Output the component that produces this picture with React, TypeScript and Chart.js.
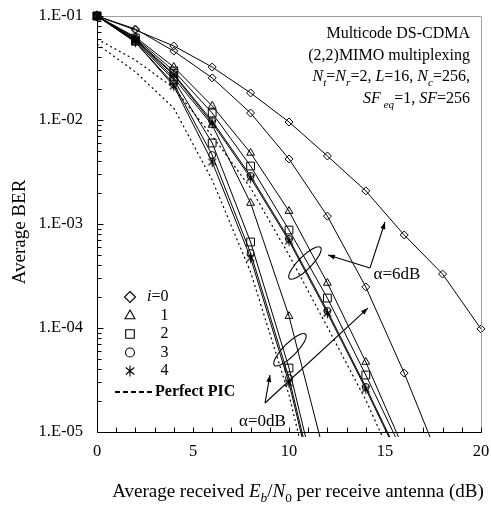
import React, { useEffect, useRef } from "react";
import { Chart, registerables } from "chart.js";

Chart.register(...registerables);

// ---------- data ----------
const SNR_DB = [0, 2, 4, 6, 8, 10, 12, 14, 16, 18, 20];
const X_TICKS = [0, 5, 10, 15, 20];
const Y_TICKS = [1e-5, 1e-4, 1e-3, 1e-2, 1e-1];

// alpha = 6 dB
const A6_I0 = [0.1, 0.0733, 0.0515, 0.0323, 0.0182, 0.00957, 0.00451, 0.00208, 0.000784, 0.00033, 0.000098];
const A6_I1 = [0.1, 0.0628, 0.0323, 0.01365, 0.00482, 0.00133, 0.000271, 4.71e-5, 6.7e-6];
const A6_I2 = [0.1, 0.0614, 0.0296, 0.01167, 0.00361, 0.000875, 0.000194, 3.53e-5, 6.0e-6];
const A6_I3 = [0.1, 0.0601, 0.0277, 0.00977, 0.0029, 0.000718, 0.000146, 2.71e-5, 4.6e-6];
const A6_I4 = [0.1, 0.0588, 0.0271, 0.00935, 0.00277, 0.000687, 0.000139, 2.59e-5, 4.4e-6];
const A6_PIC = [0.0601, 0.0377, 0.0203, 0.00702, 0.00222, 0.000503, 0.000102, 2.03e-5, 3.1e-6];

// alpha = 0 dB
const A0_I0 = [0.1, 0.075, 0.046, 0.0254, 0.01167, 0.00422, 0.00119, 0.000248, 3.69e-5, 4.5e-6];
const A0_I1 = [0.1, 0.0588, 0.0254, 0.00895, 0.00159, 0.00013, 4.7e-6];
const A0_I2 = [0.1, 0.0575, 0.0243, 0.00601, 0.000671, 4.12e-5, 1.2e-6];
const A0_I3 = [0.1, 0.0562, 0.0222, 0.0046, 0.000526, 3.3e-5, 9.6e-7];
const A0_I4 = [0.1, 0.0562, 0.0212, 0.00395, 0.000471, 2.96e-5, 8.6e-7];
const A0_PIC = [0.0538, 0.029, 0.013, 0.00265, 0.000345, 2.27e-5, 6.6e-7];

// legend labels
const LEGEND_FIRST = "i";
const LEGEND_NUMS = ["=0", "1", "2", "3", "4"];
const LEGEND_PIC = "Perfect PIC";

// annotations (data coordinates)
const A6_LABEL = "α=6dB";
const A6_LABEL_POS = [14.4, 3.3e-4];
const A6_VERTEX = [14.22, 3.78e-4];
const A6_TIPS = [[12.03, 5.04e-4], [15.0, 1.045e-3]];
const A6_ELLIPSE = [10.83, 4.22e-4];

const A0_LABEL = "α=0dB";
const A0_LABEL_POS = [7.4, 1.27e-5];
const A0_VERTEX = [8.75, 1.9e-5];
const A0_TIPS = [[9.01, 3.53e-5], [14.11, 1.556e-4]];
const A0_ELLIPSE = [10.05, 6.17e-5];

type Seg = [string, string];
const INFO_LINES: Seg[][] = [
  [["Multicode DS-CDMA", ""]],
  [["(2,2)MIMO multiplexing", ""]],
  [["N", "i"], ["t", "is"], ["=", ""], ["N", "i"], ["r", "is"], ["=2, ", ""], ["L", "i"], ["=16, ", ""], ["N", "i"], ["c", "is"], ["=256,", ""]],
  [["SF", "i"], [" eq", "is"], ["=1, ", ""], ["SF", "i"], ["=256", ""]],
];
const X_TITLE: Seg[] = [["Average received ", ""], ["E", "i"], ["b", "is"], ["/", ""], ["N", "i"], ["0", "s"], [" per receive antenna (dB)", ""]];
const Y_TITLE = "Average BER";

const SERIF = '"Liberation Serif", "Times New Roman", serif';

function fontFor(flags: string, size: number) {
  const sub = flags.includes("s");
  const it = flags.includes("i");
  const sz = sub ? size * 0.7 : size;
  return `${it ? "italic " : ""}${sz}px ${SERIF}`;
}

function richWidth(ctx: CanvasRenderingContext2D, segs: Seg[], size: number) {
  let w = 0;
  for (const [t, f] of segs) {
    ctx.font = fontFor(f, size);
    w += ctx.measureText(t).width;
  }
  return w;
}

function drawRich(ctx: CanvasRenderingContext2D, segs: Seg[], x: number, baseline: number, size: number, align: "left" | "right" | "center") {
  const w = richWidth(ctx, segs, size);
  let cx = align === "left" ? x : align === "right" ? x - w : x - w / 2;
  ctx.textAlign = "left";
  ctx.textBaseline = "alphabetic";
  for (const [t, f] of segs) {
    ctx.font = fontFor(f, size);
    const dy = f.includes("s") ? size * 0.28 : 0;
    ctx.fillText(t, cx, baseline + dy);
    cx += ctx.measureText(t).width;
  }
}

function makeAsterisk(arm: number, lw: number) {
  const s = Math.ceil(arm * 2 + 3);
  const c = document.createElement("canvas");
  c.width = s;
  c.height = s;
  const g = c.getContext("2d")!;
  g.strokeStyle = "#000";
  g.lineWidth = lw;
  const cx = s / 2, cy = s / 2;
  for (const a of [90, 40, 140]) {
    const r = (a * Math.PI) / 180;
    g.beginPath();
    g.moveTo(cx - Math.cos(r) * arm, cy - Math.sin(r) * arm);
    g.lineTo(cx + Math.cos(r) * arm, cy + Math.sin(r) * arm);
    g.stroke();
  }
  return c;
}

function drawMarker(ctx: CanvasRenderingContext2D, type: string, x: number, y: number, r: number) {
  ctx.beginPath();
  if (type === "diamond") {
    ctx.moveTo(x, y - r); ctx.lineTo(x + r, y); ctx.lineTo(x, y + r); ctx.lineTo(x - r, y); ctx.closePath();
  } else if (type === "triangle") {
    ctx.moveTo(x, y - r); ctx.lineTo(x + r * 0.9, y + r * 0.6); ctx.lineTo(x - r * 0.9, y + r * 0.6); ctx.closePath();
  } else if (type === "square") {
    ctx.rect(x - r, y - r, 2 * r, 2 * r);
  } else if (type === "circle") {
    ctx.arc(x, y, r, 0, Math.PI * 2);
  } else if (type === "asterisk") {
    for (const a of [90, 40, 140]) {
      const t = (a * Math.PI) / 180;
      ctx.moveTo(x - Math.cos(t) * r, y - Math.sin(t) * r);
      ctx.lineTo(x + Math.cos(t) * r, y + Math.sin(t) * r);
    }
  }
  ctx.stroke();
}

function arrow(ctx: CanvasRenderingContext2D, x0: number, y0: number, x1: number, y1: number) {
  ctx.beginPath();
  ctx.moveTo(x0, y0);
  ctx.lineTo(x1, y1);
  ctx.stroke();
  const ang = Math.atan2(y1 - y0, x1 - x0);
  const L = 7, W = 2.5;
  ctx.beginPath();
  ctx.moveTo(x1, y1);
  ctx.lineTo(x1 - L * Math.cos(ang) + W * Math.sin(ang), y1 - L * Math.sin(ang) - W * Math.cos(ang));
  ctx.lineTo(x1 - L * Math.cos(ang) - W * Math.sin(ang), y1 - L * Math.sin(ang) + W * Math.cos(ang));
  ctx.closePath();
  ctx.fill();
}

const overlayPlugin = {
  id: "overlay",
  afterDatasetsDraw(chart: any) {
    const ctx: CanvasRenderingContext2D = chart.ctx;
    const { left, right, top, bottom } = chart.chartArea;
    const xs = chart.scales.x, ys = chart.scales.y;
    const X = (v: number) => xs.getPixelForValue(v);
    const Y = (v: number) => ys.getPixelForValue(v);
    const L = Math.round(left) + 0.5, R = Math.round(right) + 0.5;
    const T = Math.round(top) + 0.5, B = Math.round(bottom) + 0.5;
    ctx.save();
    ctx.lineWidth = 1;
    // frame
    ctx.strokeStyle = "#a0a0a0";
    ctx.beginPath();
    ctx.moveTo(L, T); ctx.lineTo(R, T); ctx.lineTo(R, B);
    ctx.stroke();
    ctx.strokeStyle = "#000";
    ctx.beginPath();
    ctx.moveTo(L, T); ctx.lineTo(L, B); ctx.lineTo(R, B);
    ctx.stroke();
    // y ticks (inside)
    ctx.beginPath();
    for (let e = -5; e <= -1; e++) {
      for (let m = 1; m <= 9; m++) {
        const v = m * Math.pow(10, e);
        if (v > 0.1000001) break;
        const py = Math.round(Y(v)) + 0.5;
        const len = m === 1 ? 6 : 4;
        ctx.moveTo(L, py); ctx.lineTo(L + len, py);
      }
    }
    // x ticks (inside)
    for (let v = 0; v <= 20; v++) {
      const px = Math.round(X(v)) + 0.5;
      ctx.moveTo(px, B); ctx.lineTo(px, B - 5);
    }
    ctx.stroke();

    // annotations
    ctx.fillStyle = "#000";
    ctx.strokeStyle = "#000";
    ctx.lineWidth = 1.1;
    for (const tip of A6_TIPS) arrow(ctx, X(A6_VERTEX[0]), Y(A6_VERTEX[1]), X(tip[0]), Y(tip[1]));
    for (const tip of A0_TIPS) arrow(ctx, X(A0_VERTEX[0]), Y(A0_VERTEX[1]), X(tip[0]), Y(tip[1]));
    for (const e of [A6_ELLIPSE, A0_ELLIPSE]) {
      ctx.beginPath();
      ctx.ellipse(X(e[0]), Y(e[1]), 22, 6.5, -Math.PI / 4, 0, Math.PI * 2);
      ctx.stroke();
    }
    ctx.font = `17px ${SERIF}`;
    ctx.textAlign = "left";
    ctx.textBaseline = "middle";
    ctx.fillText(A6_LABEL, X(A6_LABEL_POS[0]), Y(A6_LABEL_POS[1]));
    ctx.fillText(A0_LABEL, X(A0_LABEL_POS[0]), Y(A0_LABEL_POS[1]));

    // info text block
    INFO_LINES.forEach((segs, i) => drawRich(ctx, segs, right - 11, top + 22 + i * 21.7, 16, "right"));

    // legend
    const mx = left + 33, tx = left + 50;
    const rowY = [top + 281, top + 299.5, top + 318, top + 336.5, top + 355];
    const types = ["diamond", "triangle", "square", "circle", "asterisk"];
    const radii = [5.5, 5.5, 4.3, 4.5, 5.5];
    ctx.lineWidth = 1.1;
    types.forEach((t, i) => drawMarker(ctx, t, mx, rowY[i], radii[i]));
    ctx.textBaseline = "middle";
    ctx.textAlign = "left";
    ctx.font = `italic 16px ${SERIF}`;
    ctx.fillText(LEGEND_FIRST, tx, rowY[0]);
    const iw = ctx.measureText(LEGEND_FIRST).width;
    ctx.font = `16px ${SERIF}`;
    const eqw = ctx.measureText("=").width;
    ctx.fillText(LEGEND_NUMS[0], tx + iw, rowY[0]);
    for (let i = 1; i < 5; i++) ctx.fillText(LEGEND_NUMS[i], tx + iw + eqw, rowY[i]);
    const py = top + 376;
    ctx.lineWidth = 1.8;
    ctx.setLineDash([5, 3]);
    ctx.beginPath();
    ctx.moveTo(left + 18, py); ctx.lineTo(left + 56, py);
    ctx.stroke();
    ctx.setLineDash([]);
    ctx.font = `bold 16px ${SERIF}`;
    ctx.fillText(LEGEND_PIC, left + 58, py);

    // axis titles
    ctx.fillStyle = "#000";
    drawRich(ctx, X_TITLE, (left + right) / 2 + 9, bottom + 65, 19, "center");
    ctx.save();
    ctx.translate(20, (top + bottom) / 2 + 8);
    ctx.rotate(-Math.PI / 2);
    ctx.font = `19px ${SERIF}`;
    ctx.textAlign = "center";
    ctx.textBaseline = "middle";
    ctx.fillText(Y_TITLE, 0, 0);
    ctx.restore();

    ctx.restore();
  },
};

function fmtExp(v: number) {
  const e = Math.round(Math.log10(v));
  const a = Math.abs(e);
  return `1.E${e < 0 ? "-" : "+"}${a < 10 ? "0" + a : a}`;
}

export default function App() {
  const ref = useRef<HTMLCanvasElement>(null);
  useEffect(() => {
    const canvas = ref.current!;
    const star = makeAsterisk(5, 1.1);
    const CLIP = { left: 12, top: 12, right: 12, bottom: 5 };
    const mk = (label: string, ys: number[], style: any, radius: number, dashed = false) => ({
      label,
      data: ys.map((y, i) => ({ x: SNR_DB[i], y })),
      borderColor: "#000",
      borderWidth: dashed ? 1.2 : 1,
      borderDash: dashed ? [2, 3] : [],
      backgroundColor: "rgba(0,0,0,0)",
      pointStyle: style,
      pointRadius: (c: any) => (dashed || !c.raw || c.raw.y < 1e-5 ? 0 : radius),
      pointHoverRadius: 0,
      pointBorderColor: "#000",
      pointBorderWidth: 1,
      pointBackgroundColor: "rgba(0,0,0,0)",
      tension: 0,
      fill: false,
      clip: CLIP,
    });
    const datasets = [
      mk("α=6dB Perfect PIC", A6_PIC, false, 0, true),
      mk("α=0dB Perfect PIC", A0_PIC, false, 0, true),
      mk("α=6dB i=0", A6_I0, "rectRot", 4),
      mk("α=6dB i=1", A6_I1, "triangle", 4.5),
      mk("α=6dB i=2", A6_I2, "rect", 5.5),
      mk("α=6dB i=3", A6_I3, "circle", 3.5),
      mk("α=6dB i=4", A6_I4, star, 5),
      mk("α=0dB i=0", A0_I0, "rectRot", 4),
      mk("α=0dB i=1", A0_I1, "triangle", 4.5),
      mk("α=0dB i=2", A0_I2, "rect", 5.5),
      mk("α=0dB i=3", A0_I3, "circle", 3.5),
      mk("α=0dB i=4", A0_I4, star, 5),
    ];
    const tickFont = { family: SERIF, size: 16.5 };
    const chart = new Chart(canvas, {
      type: "line",
      data: { datasets: datasets as any },
      options: {
        responsive: false,
        animation: false,
        devicePixelRatio: 1,
        layout: { padding: { left: 0, right: 10, top: 16, bottom: 0 } },
        plugins: { legend: { display: false }, tooltip: { enabled: false }, title: { display: false } },
        events: [],
        scales: {
          x: {
            type: "linear",
            min: 0,
            max: 20,
            afterBuildTicks: (s: any) => { s.ticks = X_TICKS.map((v) => ({ value: v })); },
            afterFit: (s: any) => { s.height = 74; s.paddingLeft = 0; s.paddingRight = 0; },
            ticks: { font: tickFont, color: "#000", padding: 10, maxRotation: 0, autoSkip: false },
            grid: { display: false, drawTicks: false },
            border: { display: false },
          },
          y: {
            type: "logarithmic",
            min: 1e-5,
            max: 1e-1,
            afterBuildTicks: (s: any) => { s.ticks = Y_TICKS.map((v) => ({ value: v })); },
            afterFit: (s: any) => { s.width = 97; s.paddingTop = 0; s.paddingBottom = 0; },
            ticks: { font: tickFont, color: "#000", padding: 14, autoSkip: false, callback: (v: any) => fmtExp(Number(v)) },
            grid: { display: false, drawTicks: false },
            border: { display: false },
          },
        },
      } as any,
      plugins: [overlayPlugin as any],
    });
    return () => chart.destroy();
  }, []);
  return (
    <div style={{ position: "fixed", left: 0, top: 0, width: 491, height: 506, background: "#fff" }}>
      <canvas ref={ref} width={491} height={506} style={{ display: "block", width: 491, height: 506 }} />
    </div>
  );
}
